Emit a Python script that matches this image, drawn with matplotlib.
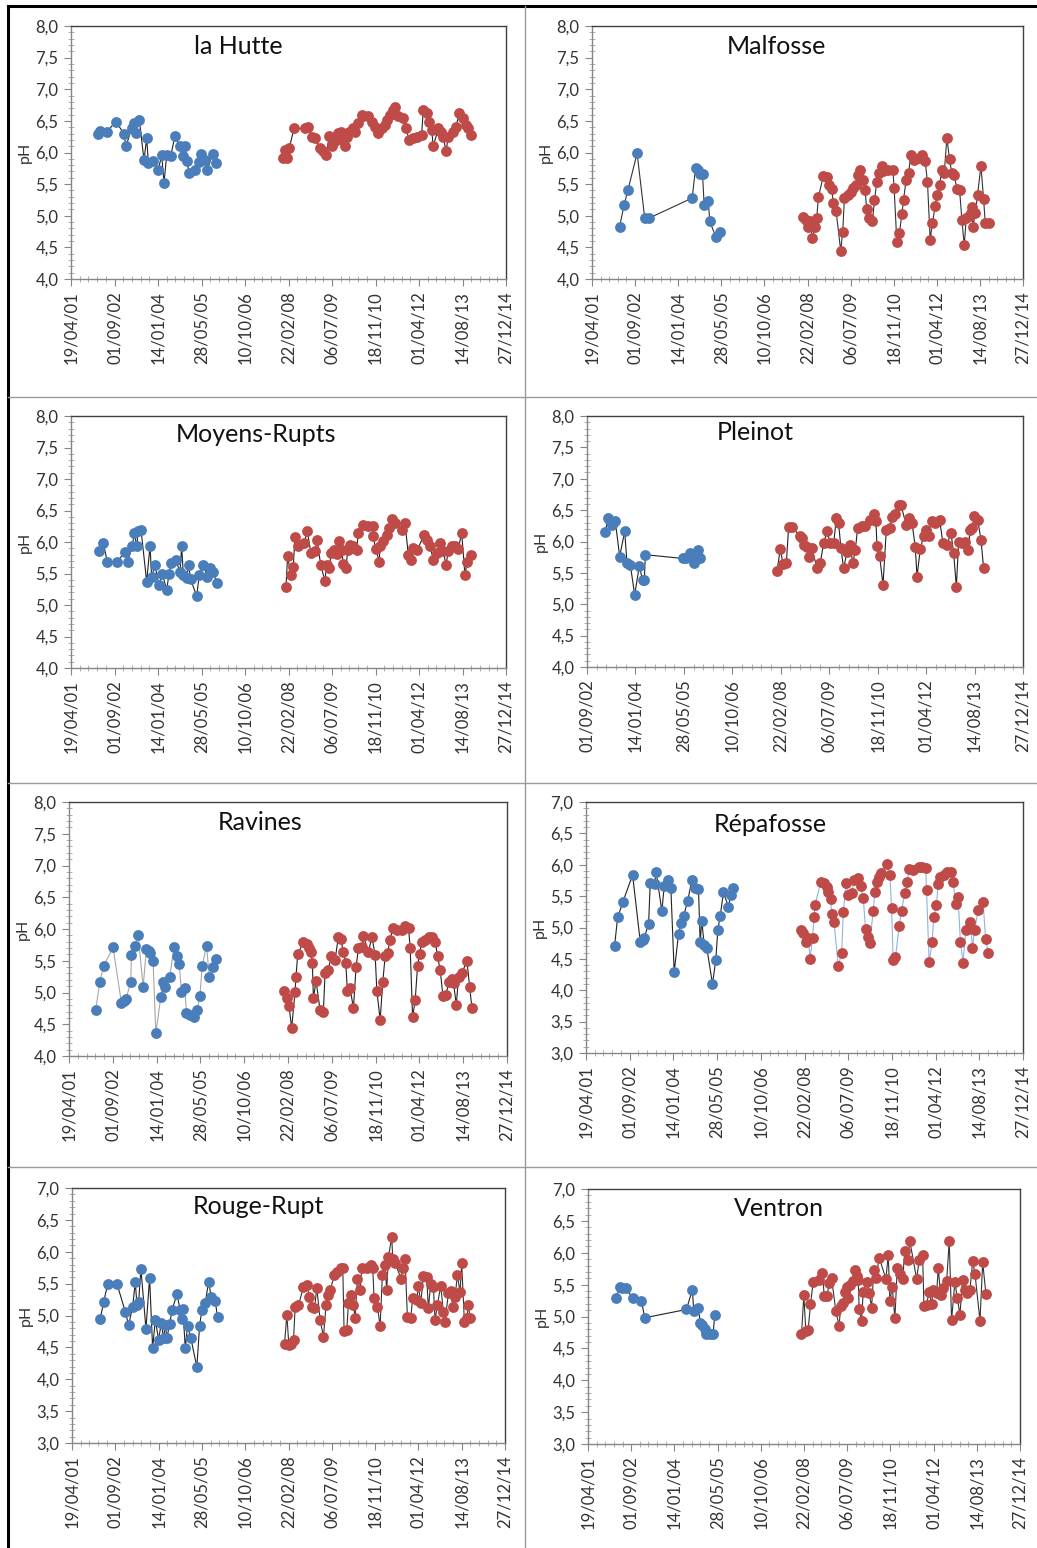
import datetime as dt
import numpy as np
import matplotlib
matplotlib.use("Agg")
from matplotlib import pyplot as plt
from matplotlib.ticker import MultipleLocator, FuncFormatter

plt.rcParams['font.family'] = ['Lato', 'DejaVu Sans']

# dates are days counted from 19/04/01 (excel serial 37000)
T0 = 37000

# la Hutte
hutte_bx = [314, 333, 410, 513, 609, 632, 697, 728, 747, 785, 839, 870, 889, 946, 1004, 1042,
            1069, 1100, 1145, 1195, 1253, 1283, 1310, 1329, 1360, 1425, 1475, 1494, 1540, 1567, 1628, 1667]
hutte_by = [6.30, 6.34, 6.32, 6.49, 6.30, 6.10, 6.38, 6.46, 6.31, 6.52, 5.88, 6.23, 5.84, 5.86, 5.73, 5.96,
            5.52, 5.96, 5.94, 6.26, 6.10, 5.95, 6.10, 5.86, 5.68, 5.72, 5.85, 5.98, 5.88, 5.72, 5.98, 5.83]
hutte_rx = [2440, 2460, 2486, 2509, 2563, 2689, 2728, 2766, 2804, 2862,
            2900, 2931, 2969, 2996, 3034, 3072, 3099, 3122, 3149, 3168,
            3199, 3237, 3264, 3302, 3341, 3360, 3417, 3456, 3494, 3532,
            3570, 3609, 3636, 3666, 3705, 3724, 3762, 3819, 3850, 3888,
            3934, 3980, 4030, 4049, 4088, 4118, 4145, 4164, 4222, 4249,
            4279, 4310, 4337, 4386, 4425, 4463, 4509, 4540, 4567, 4593]
hutte_ry = [5.91, 6.04, 5.91, 6.07, 6.38, 6.38, 6.40, 6.25, 6.23, 6.07,
            6.02, 5.96, 6.26, 6.10, 6.18, 6.31, 6.33, 6.20, 6.10, 6.25,
            6.33, 6.38, 6.33, 6.46, 6.59, 6.57, 6.58, 6.49, 6.41, 6.31,
            6.38, 6.43, 6.52, 6.59, 6.67, 6.72, 6.57, 6.54, 6.38, 6.20,
            6.23, 6.25, 6.28, 6.67, 6.62, 6.49, 6.36, 6.10, 6.38, 6.33,
            6.25, 6.02, 6.25, 6.33, 6.41, 6.62, 6.54, 6.43, 6.38, 6.28]

# Malfosse
malf_bx = [321, 372, 418, 523, 612, 658, 1162, 1201, 1224, 1251, 1282, 1301, 1348, 1367, 1437, 1483]
malf_by = [4.83, 5.17, 5.41, 5.99, 4.96, 4.96, 5.28, 5.75, 5.73, 5.66, 5.66, 5.17, 5.24, 4.91, 4.66, 4.74]
malf_rx = [2452, 2483, 2510, 2529, 2556, 2587, 2607, 2626, 2684, 2723,
           2754, 2781, 2800, 2831, 2885, 2909, 2928, 2974, 3002, 3033,
           3064, 3091, 3110, 3149, 3168, 3187, 3218, 3253, 3277, 3304,
           3335, 3362, 3381, 3439, 3490, 3505, 3536, 3567, 3594, 3614,
           3644, 3672, 3699, 3730, 3788, 3827, 3865, 3892, 3923, 3950,
           3981, 4001, 4032, 4059, 4086, 4117, 4148, 4175, 4202, 4233,
           4264, 4291, 4318, 4342, 4369, 4396, 4407, 4419, 4446, 4473,
           4512, 4543, 4562, 4601]
malf_ry = [4.98, 4.93, 4.83, 4.91, 4.65, 4.82, 4.96, 5.29, 5.63, 5.61,
           5.49, 5.42, 5.20, 5.08, 4.45, 4.75, 5.28, 5.33, 5.38, 5.44,
           5.49, 5.65, 5.72, 5.56, 5.40, 5.11, 4.96, 4.91, 5.25, 5.53,
           5.67, 5.78, 5.70, 5.73, 5.73, 5.44, 4.59, 4.73, 5.02, 5.25,
           5.57, 5.67, 5.96, 5.88, 5.91, 5.96, 5.86, 5.53, 4.62, 4.89,
           5.15, 5.33, 5.49, 5.73, 5.67, 6.23, 5.89, 5.67, 5.65, 5.42,
           5.41, 4.94, 4.53, 4.96, 5.00, 5.04, 5.14, 4.82, 5.04, 5.33,
           5.79, 5.26, 4.89, 4.88]

# Moyens-Rupts
moy_bx = [326, 372, 418, 525, 621, 651, 705, 728, 755, 774,
          805, 870, 908, 927, 965, 1011, 1050, 1100, 1126, 1149,
          1203, 1253, 1272, 1291, 1329, 1352, 1375, 1444, 1475, 1521,
          1567, 1598, 1636, 1674]
moy_by = [5.85, 5.98, 5.68, 5.68, 5.84, 5.69, 5.94, 6.15, 5.93, 6.18,
          6.19, 5.37, 5.94, 5.45, 5.63, 5.32, 5.49, 5.24, 5.49, 5.66,
          5.71, 5.53, 5.93, 5.48, 5.43, 5.64, 5.41, 5.14, 5.48, 5.64,
          5.45, 5.59, 5.53, 5.35]
moy_rx = [2471, 2490, 2525, 2555, 2574, 2613, 2678, 2716, 2758, 2804,
          2831, 2869, 2919, 2938, 2969, 2988, 3026, 3053, 3080, 3111,
          3130, 3161, 3180, 3207, 3245, 3283, 3302, 3360, 3417, 3467,
          3475, 3502, 3544, 3551, 3582, 3628, 3659, 3685, 3724, 3800,
          3839, 3877, 3904, 3934, 3980, 4057, 4095, 4126, 4164, 4203,
          4241, 4279, 4310, 4337, 4375, 4413, 4452, 4490, 4528, 4555,
          4593]
moy_ry = [5.29, 5.78, 5.48, 5.61, 6.08, 5.93, 5.98, 6.17, 5.82, 5.85,
          6.03, 5.64, 5.38, 5.64, 5.59, 5.82, 5.87, 5.81, 6.01, 5.87,
          5.65, 5.59, 5.87, 5.96, 5.93, 5.87, 6.15, 6.27, 6.25, 6.26,
          6.09, 5.89, 5.69, 5.93, 6.01, 6.11, 6.22, 6.36, 6.30, 6.19,
          6.30, 5.80, 5.71, 5.90, 5.87, 6.11, 6.03, 5.94, 5.72, 5.82,
          5.98, 5.85, 5.64, 5.85, 5.93, 5.93, 5.89, 6.15, 5.48, 5.69,
          5.80]

# Pleinot
plei_bx = [689, 717, 741, 758, 792, 837, 889, 913, 947, 992,
           1040, 1074, 1092, 1102, 1487, 1522, 1566, 1601, 1628, 1646, 1670]
plei_by = [6.15, 6.37, 6.32, 6.26, 6.33, 5.76, 6.16, 5.65, 5.63, 5.15,
           5.61, 5.38, 5.39, 5.79, 5.73, 5.73, 5.81, 5.66, 5.80, 5.86, 5.73]
plei_rx = [2461, 2495, 2523, 2557, 2581, 2616, 2695, 2719, 2743, 2770,
           2794, 2822, 2874, 2908, 2942, 2977, 3011, 3046, 3073, 3097,
           3121, 3149, 3183, 3218, 3242, 3269, 3293, 3338, 3372, 3424,
           3458, 3482, 3493, 3520, 3555, 3589, 3624, 3648, 3682, 3716,
           3740, 3796, 3820, 3854, 3888, 3906, 3940, 3974, 3998, 4026,
           4060, 4095, 4140, 4174, 4215, 4256, 4284, 4312, 4336, 4370,
           4404, 4428, 4456, 4473, 4497, 4532, 4566, 4594]
plei_ry = [5.53, 5.88, 5.64, 5.65, 6.23, 6.23, 6.09, 6.05, 5.94, 5.92,
           5.76, 5.89, 5.57, 5.66, 5.97, 6.16, 5.97, 5.97, 6.37, 6.29,
           5.89, 5.57, 5.84, 5.94, 5.65, 5.86, 6.21, 6.24, 6.24, 6.34,
           6.44, 6.32, 5.93, 5.77, 5.31, 6.18, 6.21, 6.39, 6.44, 6.58,
           6.58, 6.26, 6.37, 6.30, 5.92, 5.44, 5.88, 6.09, 6.18, 6.08,
           6.32, 6.29, 6.34, 5.97, 5.94, 6.14, 5.82, 5.28, 6.00, 5.97,
           6.00, 5.86, 6.18, 6.21, 6.41, 6.35, 6.03, 5.57]

# Ravines
rav_bx = [305, 351, 396, 503, 598, 629, 648, 705, 713, 751,
          789, 846, 884, 911, 930, 960, 991, 1048, 1075, 1094,
          1151, 1197, 1235, 1258, 1284, 1322, 1341, 1380, 1425, 1463,
          1494, 1521, 1570, 1601, 1639, 1677]
rav_by = [4.73, 5.16, 5.42, 5.71, 4.84, 4.87, 4.89, 5.16, 5.59, 5.73,
          5.91, 5.09, 5.68, 5.65, 5.62, 5.49, 4.36, 4.93, 5.16, 5.09,
          5.25, 5.71, 5.58, 5.45, 5.01, 5.07, 4.67, 4.65, 4.62, 4.73,
          4.94, 5.42, 5.74, 5.25, 5.40, 5.53]
rav_rx = [2458, 2485, 2511, 2542, 2580, 2591, 2611, 2675, 2713, 2744,
          2759, 2778, 2790, 2820, 2866, 2904, 2923, 2961, 2992, 3037,
          3075, 3102, 3133, 3159, 3178, 3209, 3247, 3277, 3304, 3342,
          3361, 3418, 3457, 3495, 3514, 3552, 3582, 3609, 3636, 3666,
          3697, 3742, 3800, 3838, 3876, 3895, 3922, 3952, 3979, 4002,
          4028, 4066, 4104, 4143, 4181, 4207, 4238, 4268, 4306, 4333,
          4371, 4390, 4421, 4447, 4486, 4543, 4573, 4600]
rav_ry = [5.03, 4.91, 4.79, 4.44, 5.01, 5.25, 5.60, 5.79, 5.77, 5.70,
          5.63, 5.47, 4.91, 5.18, 4.73, 4.70, 5.31, 5.36, 5.57, 5.51,
          5.88, 5.84, 5.63, 5.47, 5.03, 5.07, 4.75, 5.40, 5.70, 5.72,
          5.89, 5.63, 5.88, 5.59, 5.03, 4.57, 5.17, 5.57, 5.62, 5.83,
          6.02, 5.99, 5.99, 6.04, 6.01, 5.70, 4.61, 4.88, 5.42, 5.61,
          5.80, 5.83, 5.88, 5.88, 5.80, 5.57, 5.35, 4.95, 4.96, 5.17,
          5.22, 5.15, 4.80, 5.25, 5.31, 5.50, 5.09, 4.75]

# Répafosse
rep_bx = [327, 362, 423, 533, 621, 647, 666, 716, 735, 784,
          803, 868, 895, 937, 971, 1009, 1059, 1089, 1116, 1165,
          1211, 1249, 1287, 1306, 1325, 1352, 1382, 1447, 1485, 1508,
          1535, 1573, 1630, 1656, 1687]
rep_by = [4.71, 5.16, 5.41, 5.84, 4.77, 4.80, 4.84, 5.05, 5.71, 5.70,
          5.89, 5.26, 5.66, 5.75, 5.63, 4.29, 4.90, 5.07, 5.18, 5.43,
          5.76, 5.63, 5.62, 4.77, 5.11, 4.72, 4.68, 4.10, 4.48, 4.96,
          5.18, 5.56, 5.33, 5.52, 5.63]
rep_rx = [2460, 2487, 2517, 2544, 2563, 2593, 2608, 2620, 2688, 2727,
          2761, 2772, 2799, 2810, 2837, 2886, 2925, 2944, 2974, 3001,
          3039, 3069, 3107, 3142, 3172, 3199, 3222, 3248, 3286, 3305,
          3332, 3355, 3370, 3446, 3477, 3496, 3515, 3541, 3583, 3610,
          3648, 3675, 3698, 3743, 3812, 3850, 3888, 3896, 3926, 3960,
          3979, 4010, 4029, 4056, 4094, 4132, 4181, 4200, 4231, 4257,
          4284, 4314, 4345, 4372, 4398, 4421, 4448, 4486, 4543, 4573,
          4600]
rep_ry = [4.96, 4.91, 4.77, 4.83, 4.50, 4.83, 5.16, 5.36, 5.73, 5.71,
          5.65, 5.56, 5.45, 5.22, 5.09, 4.39, 4.59, 5.24, 5.71, 5.52,
          5.55, 5.76, 5.79, 5.66, 5.47, 4.97, 4.85, 4.75, 5.27, 5.57,
          5.73, 5.81, 5.87, 6.01, 5.84, 5.31, 4.48, 4.53, 5.02, 5.27,
          5.55, 5.73, 5.93, 5.91, 5.97, 5.96, 5.95, 5.60, 4.45, 4.77,
          5.16, 5.36, 5.70, 5.81, 5.84, 5.88, 5.88, 5.73, 5.37, 5.48,
          4.77, 4.44, 4.96, 4.97, 5.09, 4.68, 4.96, 5.28, 5.40, 4.81,
          4.60]

# Rouge-Rupt
rouge_bx = [327, 365, 412, 519, 615, 654, 700, 731, 750, 769,
            796, 854, 896, 931, 962, 1000, 1031, 1058, 1077, 1096,
            1127, 1154, 1211, 1250, 1269, 1281, 1308, 1335, 1373, 1442,
            1473, 1500, 1538, 1577, 1608, 1654, 1681]
rouge_by = [4.95, 5.21, 5.49, 5.50, 5.06, 4.85, 5.14, 5.52, 5.17, 5.21,
            5.73, 4.79, 5.59, 4.49, 4.93, 4.62, 4.88, 4.64, 4.85, 4.65,
            4.86, 5.08, 5.33, 5.09, 4.95, 5.10, 4.49, 4.84, 4.64, 4.19,
            4.84, 5.09, 5.19, 5.53, 5.29, 5.22, 4.97]
rouge_rx = [2454, 2481, 2504, 2527, 2558, 2577, 2615, 2673, 2711, 2742,
            2769, 2800, 2827, 2865, 2904, 2934, 2961, 2981, 3031, 3065,
            3104, 3127, 3142, 3173, 3192, 3223, 3250, 3269, 3296, 3327,
            3346, 3404, 3450, 3473, 3488, 3527, 3558, 3584, 3615, 3634,
            3654, 3692, 3704, 3731, 3800, 3819, 3846, 3873, 3911, 3934,
            3981, 4000, 4027, 4058, 4096, 4115, 4142, 4173, 4192, 4219,
            4258, 4288, 4308, 4346, 4373, 4396, 4423, 4450, 4481, 4500,
            4531, 4558, 4577, 4596]
rouge_ry = [4.56, 5.01, 4.54, 4.56, 4.62, 5.14, 5.16, 5.45, 5.48, 5.29,
            5.14, 5.11, 5.43, 4.93, 4.67, 5.17, 5.32, 5.40, 5.63, 5.68,
            5.74, 5.74, 4.75, 4.77, 5.19, 5.32, 5.17, 4.96, 5.58, 5.40,
            5.74, 5.75, 5.79, 5.74, 5.27, 5.14, 4.83, 5.63, 5.79, 5.40,
            5.92, 6.23, 5.89, 5.82, 5.58, 5.75, 5.88, 4.98, 4.96, 5.27,
            5.24, 5.47, 5.19, 5.62, 5.60, 5.11, 5.50, 5.45, 4.93, 5.16,
            5.47, 5.06, 4.90, 5.35, 5.38, 5.14, 5.29, 5.63, 5.37, 5.82,
            4.90, 4.96, 5.17, 4.96]

# Ventron
vent_bx = [328, 367, 398, 436, 521, 618, 656, 1139, 1208, 1224,
           1274, 1301, 1324, 1351, 1371, 1409, 1448, 1467]
vent_by = [5.29, 5.47, 5.45, 5.44, 5.29, 5.25, 4.98, 5.11, 5.42, 5.08,
           5.14, 4.90, 4.86, 4.81, 4.72, 4.72, 4.72, 5.03]
vent_rx = [2471, 2498, 2521, 2548, 2575, 2606, 2676, 2714, 2734, 2768,
           2791, 2819, 2869, 2907, 2923, 2954, 2973, 2992, 3012, 3031,
           3069, 3089, 3108, 3127, 3139, 3166, 3185, 3224, 3255, 3282,
           3309, 3332, 3371, 3448, 3475, 3494, 3521, 3552, 3579, 3610,
           3641, 3668, 3699, 3726, 3803, 3834, 3873, 3888, 3919, 3946,
           3977, 3996, 4035, 4054, 4081, 4112, 4151, 4181, 4208, 4247,
           4274, 4305, 4336, 4363, 4390, 4421, 4452, 4479, 4537, 4568,
           4606]
vent_ry = [4.72, 5.33, 4.77, 4.79, 5.19, 5.54, 5.58, 5.68, 5.32, 5.32,
           5.53, 5.60, 5.08, 4.85, 5.16, 5.21, 5.39, 5.46, 5.29, 5.50,
           5.55, 5.73, 5.63, 5.58, 5.11, 4.93, 5.39, 5.54, 5.37, 5.14,
           5.73, 5.60, 5.92, 5.59, 5.97, 5.24, 5.47, 4.97, 5.76, 5.66,
           5.59, 6.03, 5.88, 6.18, 5.59, 5.89, 5.97, 5.16, 5.18, 5.39,
           5.20, 5.42, 5.37, 5.76, 5.34, 5.45, 5.55, 6.19, 4.95, 5.54,
           5.29, 5.03, 5.58, 5.42, 5.37, 5.42, 5.87, 5.67, 4.93, 5.85,
           5.35]

BLUE = '#4a7ebb'
RED = '#be4b48'
W, H = 1037, 1548

# name, box in pixels (left, right, top, bottom), title centre, y range, x start,
# line colours for the blue and red series
panels = [
    ('la Hutte', (71, 506, 26, 279), (238, 46), (4, 8), 0,
     hutte_bx, hutte_by, hutte_rx, hutte_ry, '#222222', '#222222'),
    ('Malfosse', (592, 1023, 26, 279), (776, 46), (4, 8), 0,
     malf_bx, malf_by, malf_rx, malf_ry, '#333333', '#333333'),
    ('Moyens-Rupts', (71, 506, 416, 668), (256, 435), (4, 8), 0,
     moy_bx, moy_by, moy_rx, moy_ry, '#222222', '#222222'),
    ('Pleinot', (587, 1023, 416, 667), (755, 433), (4, 8), 500,
     plei_bx, plei_by, plei_rx, plei_ry, '#222222', '#222222'),
    ('Ravines', (69, 507, 802, 1056), (260, 822), (4, 8), 0,
     rav_bx, rav_by, rav_rx, rav_ry, '#a6a6a6', '#222222'),
    ('Répafosse', (586, 1023, 802, 1053), (770, 825), (3, 7), 0,
     rep_bx, rep_by, rep_rx, rep_ry, '#222222', '#8db4e2'),
    ('Rouge-Rupt', (72, 505, 1188, 1443), (258, 1207), (3, 7), 0,
     rouge_bx, rouge_by, rouge_rx, rouge_ry, '#222222', '#333333'),
    ('Ventron', (588, 1020, 1189, 1444), (779, 1209), (3, 7), 0,
     vent_bx, vent_by, vent_rx, vent_ry, '#222222', '#333333'),
]


def excel_date(v, pos):
    d = dt.date(1899, 12, 30) + dt.timedelta(days=int(round(v)))
    return d.strftime('%d/%m/%y')


fig = plt.figure(figsize=(W / 100, H / 100), dpi=100)

for (name, box, tpos, ylim, xstart, bx, by, rx, ry, bline, rline) in panels:
    l, r, t, b = box
    ax = fig.add_axes([l / W, 1 - b / H, (r - l) / W, (b - t) / H])
    ax.plot(T0 + np.array(bx), by, '-', color=bline, lw=0.8, zorder=2)
    ax.plot(T0 + np.array(bx), by, 'o', color=BLUE, ms=7.8, mec='none', zorder=3)
    ax.plot(T0 + np.array(rx), ry, '-', color=rline, lw=0.8, zorder=2)
    ax.plot(T0 + np.array(rx), ry, 'o', color=RED, ms=7.8, mec='none', zorder=3)

    ax.set_xlim(T0 + xstart, T0 + 5000)
    ax.set_ylim(*ylim)
    ax.xaxis.set_major_locator(MultipleLocator(500))
    ax.xaxis.set_minor_locator(MultipleLocator(100))
    ax.xaxis.set_major_formatter(FuncFormatter(excel_date))
    ax.yaxis.set_major_locator(MultipleLocator(0.5))
    ax.yaxis.set_minor_locator(MultipleLocator(0.1))
    ax.yaxis.set_major_formatter(FuncFormatter(lambda v, p: f'{v:.1f}'.replace('.', ',')))

    ax.tick_params(axis='both', which='major', direction='out', length=5, width=0.8,
                   color='#868686', labelsize=12, labelcolor='#333333')
    ax.tick_params(axis='both', which='minor', direction='inout', length=4, width=0.6,
                   color='#a0a0a0')
    ax.tick_params(axis='x', which='major', labelrotation=90, pad=4)
    ax.tick_params(axis='y', which='major', pad=4)
    for s in ('top', 'right'):
        ax.spines[s].set_color('#404040')
        ax.spines[s].set_linewidth(1.0)
    for s in ('left', 'bottom'):
        ax.spines[s].set_color('#868686')
        ax.spines[s].set_linewidth(1.0)

    ax.set_ylabel('pH', fontsize=11.5, color='#333333')
    ax.yaxis.set_label_coords(-39 / (r - l), 0.5)

    fig.text(tpos[0] / W, 1 - tpos[1] / H, name, ha='center', va='center',
             fontsize=18, color='#111111')

# frame and separators of the panel grid
border = dict(transform=fig.transFigure, figure=fig)
fig.add_artist(plt.Line2D([8 / W, 8 / W], [0, 1 - 6 / H], color='black', lw=2.2, **border))
fig.add_artist(plt.Line2D([8 / W, 1], [1 - 6 / H, 1 - 6 / H], color='black', lw=2.2, **border))
fig.add_artist(plt.Line2D([525 / W, 525 / W], [0, 1 - 6 / H], color='#9a9a9a', lw=1.0, **border))
for yy in (397, 783, 1167):
    fig.add_artist(plt.Line2D([8 / W, 1], [1 - yy / H, 1 - yy / H], color='#9a9a9a', lw=1.0, **border))

fig.savefig('out.png', dpi=100, facecolor='white')
